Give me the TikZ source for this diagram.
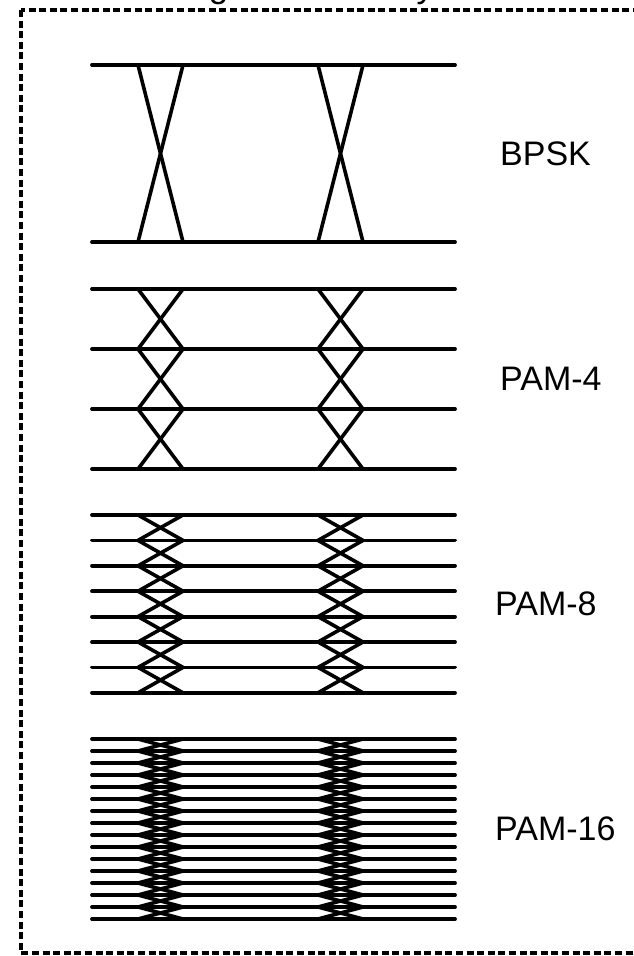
\documentclass[tikz,border=0pt]{standalone}
\usepackage{fontspec}
\setmainfont{Liberation Sans}

\begin{document}
\begin{tikzpicture}[x=1pt,y=-1pt,
    rail/.style={line width=3.8pt,line cap=round},
    cross/.style={line width=3.6pt},
    frame/.style={line width=3.2pt,dash pattern=on 7pt off 3.6pt},
    modlabel/.style={anchor=west,inner sep=0pt,font=\fontsize{34}{40}\selectfont}]

  \useasboundingbox (0,0) rectangle (634,956);

  % heading sits above the page, only its tails show
  \node[anchor=base,inner sep=0pt,font=\fontsize{35}{40}\selectfont] (title) at (305,-3) {Higher efficiency};

  \draw[frame] (21,10) rectangle (670,953);

  % name / levels / top rail / rail gap / label / label x
  \foreach \name/\lv/\top/\gap/\lab/\lx in
      {bpsk/2/65/177/BPSK/500,
       pam4/4/289/60/PAM-4/500,
       pam8/8/515/25.4/PAM-8/495,
       pam16/16/739/12/PAM-16/495} {

    \pgfmathtruncatemacro{\last}{\lv-1}
    \foreach \i in {0,...,\last} {
      \coordinate (\name-l\i) at (92,{\top+\i*\gap});
      \coordinate (\name-r\i) at (455,{\top+\i*\gap});
      \coordinate (\name-a\i) at (138,{\top+\i*\gap});
      \coordinate (\name-b\i) at (183,{\top+\i*\gap});
      \coordinate (\name-c\i) at (318,{\top+\i*\gap});
      \coordinate (\name-d\i) at (363,{\top+\i*\gap});
      \draw[rail] (\name-l\i) -- (\name-r\i);
    }

    % symbol transitions
    \foreach \i in {1,...,\last} {
      \pgfmathtruncatemacro{\j}{\i-1}
      \draw[cross] (\name-a\j) -- (\name-b\i);
      \draw[cross] (\name-b\j) -- (\name-a\i);
      \draw[cross] (\name-c\j) -- (\name-d\i);
      \draw[cross] (\name-d\j) -- (\name-c\i);
    }

    \node[modlabel] (\name) at (\lx,{\top+\last*\gap/2}) {\lab};
  }

\end{tikzpicture}
\end{document}
